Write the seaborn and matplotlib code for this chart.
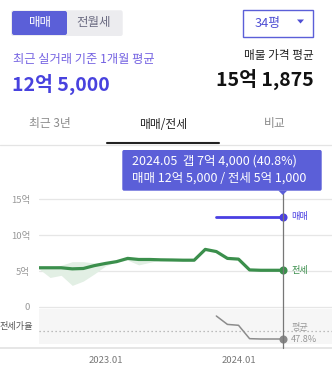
import numpy as np
import pandas as pd
import seaborn as sns
import matplotlib
matplotlib.use("Agg")
import matplotlib.pyplot as plt
from matplotlib.patches import FancyBboxPatch, Polygon, Rectangle
from matplotlib.lines import Line2D
from matplotlib.transforms import blended_transform_factory

# ---- data (억 원 / %) ----
months = ["2022.07", "2022.08", "2022.09", "2022.10", "2022.11", "2022.12",
          "2023.01", "2023.02", "2023.03", "2023.04", "2023.05", "2023.06",
          "2023.07", "2023.08", "2023.09", "2023.10", "2023.11", "2023.12",
          "2024.01", "2024.02", "2024.03", "2024.04", "2024.05"]
sale_price = [None, None, None, None, None, None, None, None, None, None, None, None,
              None, None, None, None, 12.5, 12.5, 12.5, 12.5, 12.5, 12.5, 12.5]
jeonse_price = [5.45, 5.45, 5.45, 5.30, 5.35, 5.75, 6.05, 6.30, 6.75, 6.60, 6.60, 6.55,
                6.53, 6.50, 6.50, 8.00, 7.70, 6.75, 6.65, 5.15, 5.10, 5.10, 5.10]
jeonse_low = [5.30, 4.10, 4.40, 3.00, 3.60, 4.60, 5.70, 6.30, 6.50, 5.85, 6.20, 6.55]
jeonse_high = [5.45, 5.45, 5.80, 6.30, 6.30, 6.10, 6.10, 6.30, 6.75, 6.60, 6.60, 6.55]
jeonse_ratio = [None, None, None, None, None, None, None, None, None, None, None, None,
                None, None, None, None, 61.6, 54.0, 53.2, 41.1, 40.8, 40.8, 40.8]
ratio_average = 47.8
y_ticks = [0, 5, 10, 15]
y_tick_labels = ["0", "5억", "10억", "15억"]
x_tick_labels = ["2023.01", "2024.01"]

W, H = 332, 373
PURPLE = "#5b5fd8"
BLUE = "#4a3fe2"
GREEN = "#3b8f4c"
BAND = "#e2efe4"
GRAY_LINE = "#8c8c8c"

sns.set_theme(style="white")
plt.rcParams["font.family"] = ["Noto Sans CJK KR", "DejaVu Sans"]

df = pd.DataFrame({
    "month": months,
    "pos": np.arange(len(months)),
    "sale": pd.to_numeric(pd.Series(sale_price), errors="coerce"),
    "jeonse": jeonse_price,
    "ratio": pd.to_numeric(pd.Series(jeonse_ratio), errors="coerce"),
})

fig = plt.figure(figsize=(W / 100, H / 100), dpi=100)
fig.patch.set_facecolor("white")


def fx(px):
    return px / W


def fy(py):
    return 1 - py / H


def fig_text(x, y, s, **kw):
    fig.text(fx(x), fy(y), s, **kw)


# ---- header controls ----
fig.add_artist(FancyBboxPatch((fx(11), fy(36)), fx(111.7), 25.7 / H,
                              boxstyle="round,pad=0,rounding_size=0.006",
                              transform=fig.transFigure, facecolor="#ececef",
                              edgecolor="none"))
fig.add_artist(FancyBboxPatch((fx(12), fy(35)), fx(55), 24 / H,
                              boxstyle="round,pad=0,rounding_size=0.006",
                              transform=fig.transFigure, facecolor=PURPLE,
                              edgecolor="none"))
fig_text(40, 22.5, "매매", color="white", fontsize=9, ha="center", va="center")
fig_text(94, 22.5, "전월세", color="#6c6c82", fontsize=9, ha="center", va="center")

fig.add_artist(Rectangle((fx(243.3), fy(36.7)), fx(69.4), 26.4 / H,
                         transform=fig.transFigure, facecolor="white",
                         edgecolor=PURPLE, linewidth=1.0))
fig_text(268, 23, "34평", color="#4f4fd4", fontsize=9.2, ha="center", va="center")
fig.add_artist(Polygon([(fx(297), fy(19.5)), (fx(304), fy(19.5)), (fx(300.5), fy(23.5))],
                       closed=True, transform=fig.transFigure, facecolor="#4f4fd4",
                       edgecolor="none"))

fig_text(12.5, 59, "최근 실거래 기준 1개월 평균", color="#7462e2", fontsize=8.8,
         ha="left", va="center")
fig_text(12, 84, "12억 5,000", color="#4842de", fontsize=14, fontweight="bold",
         ha="left", va="center")
fig_text(313.5, 56, "매물 가격 평균", color="#222222", fontsize=8.4,
         ha="right", va="center")
fig_text(313.5, 79.5, "15억 1,875", color="#111111", fontsize=14, fontweight="bold",
         ha="right", va="center")

# ---- tabs ----
fig_text(50, 124, "최근 3년", color="#8a8a8a", fontsize=8.5, ha="center", va="center")
fig_text(163, 124, "매매/전세", color="#222222", fontsize=8.5, ha="center", va="center")
fig_text(275, 124, "비교", color="#8a8a8a", fontsize=8.5, ha="center", va="center")
fig.add_artist(Line2D([0, 1], [fy(145), fy(145)], transform=fig.transFigure,
                      color="#e4e4e4", linewidth=0.9))
fig.add_artist(Line2D([fx(107), fx(219)], [fy(143.5), fy(143.5)], transform=fig.transFigure,
                      color="#222222", linewidth=1.5))

# ---- price chart ----
px_per_month = (238 - 105) / 12.0
x_right = (W - 39) / px_per_month
ax = fig.add_axes([fx(39), fy(309), (W - 39) / W, (309 - 190) / H])
ax.set_xlim(0, x_right)
ax.set_ylim((307 - 309) / 7.2, (307 - 190) / 7.2)
for v in y_ticks:
    ax.axhline(v, color="#e6e6e6", linewidth=0.9, zorder=0)
ax.fill_between(df["pos"][:len(jeonse_low)], jeonse_low, jeonse_high,
                color=BAND, linewidth=0, zorder=1)
sns.lineplot(data=df, x="pos", y="jeonse", ax=ax, color=GREEN, linewidth=2.3,
             zorder=3, solid_joinstyle="round", solid_capstyle="round")
sns.lineplot(data=df.dropna(subset=["sale"]), x="pos", y="sale", ax=ax, color=BLUE,
             linewidth=2.0, zorder=3)
last = df.iloc[-1]
ax.scatter([last["pos"]], [last["sale"]], s=34, color=BLUE, zorder=5, linewidths=0)
ax.scatter([last["pos"]], [last["jeonse"]], s=34, color=GREEN, zorder=5, linewidths=0)
ax.set_yticks(y_ticks, y_tick_labels)
ax.set_xticks([])
ax.tick_params(axis="y", length=0, pad=6.5, labelsize=6.8, labelcolor="#999999")
ax.set_xlabel("")
ax.set_ylabel("")
for s in ax.spines.values():
    s.set_visible(False)
ax.patch.set_alpha(0)

# ---- jeonse ratio panel ----
rax = fig.add_axes([fx(39), fy(344.3), (W - 39) / W, 35 / H])
rax.set_xlim(0, x_right)
rax.set_ylim(40.8 - (344.3 - 339) / 1.106, 40.8 + (339 - 309.3) / 1.106)
rax.set_facecolor("#f6f6f6")
rax.axhline(ratio_average, color="#aaaaaa", linewidth=0.9, linestyle=(0, (1, 2.2)), zorder=1)
sns.lineplot(data=df.dropna(subset=["ratio"]), x="pos", y="ratio", ax=rax,
             color=GRAY_LINE, linewidth=1.1, zorder=3)
rax.scatter([last["pos"]], [last["ratio"]], s=34, color="#888888", zorder=5, linewidths=0)
rax.set_xticks([])
rax.set_yticks([])
rax.set_xlabel("")
rax.set_ylabel("")
for s in rax.spines.values():
    s.set_visible(False)
fig_text(0, 326.5, "전세가율", color="#555555", fontsize=6.6, ha="left", va="center")

# ---- bottom axis line and x labels ----
fig.add_artist(Line2D([0, 1], [fy(347.7), fy(347.7)], transform=fig.transFigure,
                      color="#e6e6e6", linewidth=1.4))
for label in x_tick_labels:
    i = months.index(label)
    xpix = 39 + i * px_per_month
    fig_text(xpix, 360.5, label, color="#777777", fontsize=6.8, ha="center", va="center")

# ---- current-month marker line ----
xpix_now = 39 + (len(months) - 1) * px_per_month
vt = blended_transform_factory(ax.transData, fig.transFigure)
fig.add_artist(Line2D([len(months) - 1] * 2, [fy(348), fy(193)], transform=vt,
                      color="#777777", linewidth=0.9, zorder=4))

# end-of-series labels
fig_text(291.5, 216.7, "매매", color=BLUE, fontsize=6.6, ha="left", va="center")
fig_text(291.5, 270, "전세", color=GREEN, fontsize=6.6, ha="left", va="center")
fig_text(291, 327.3, "평균", color="#999999", fontsize=6.6, ha="left", va="center")
fig_text(291, 339.5, f"{ratio_average}%", color="#999999", fontsize=6.6,
         ha="left", va="center")

# ---- tooltip ----
fig.add_artist(FancyBboxPatch((fx(122.3), fy(190.7)), fx(199.4), 40.7 / H,
                              boxstyle="round,pad=0,rounding_size=0.005",
                              transform=fig.transFigure, facecolor=PURPLE,
                              edgecolor="none", zorder=6))
fig.add_artist(Polygon([(fx(xpix_now - 4.5), fy(190.5)), (fx(xpix_now + 4.5), fy(190.5)),
                        (fx(xpix_now), fy(195))], closed=True,
                       transform=fig.transFigure, facecolor=PURPLE, edgecolor="none",
                       zorder=6))
gap = last["sale"] - last["jeonse"]
fig_text(132, 161.5, f"{months[-1]}  갭 7억 4,000 ({last['ratio']}%)", color="white",
         fontsize=9, ha="left", va="center", zorder=7)
fig_text(132, 178.5, "매매 12억 5,000 / 전세 5억 1,000", color="white",
         fontsize=9, ha="left", va="center", zorder=7)

fig.savefig("out.png", dpi=100, facecolor="white")
